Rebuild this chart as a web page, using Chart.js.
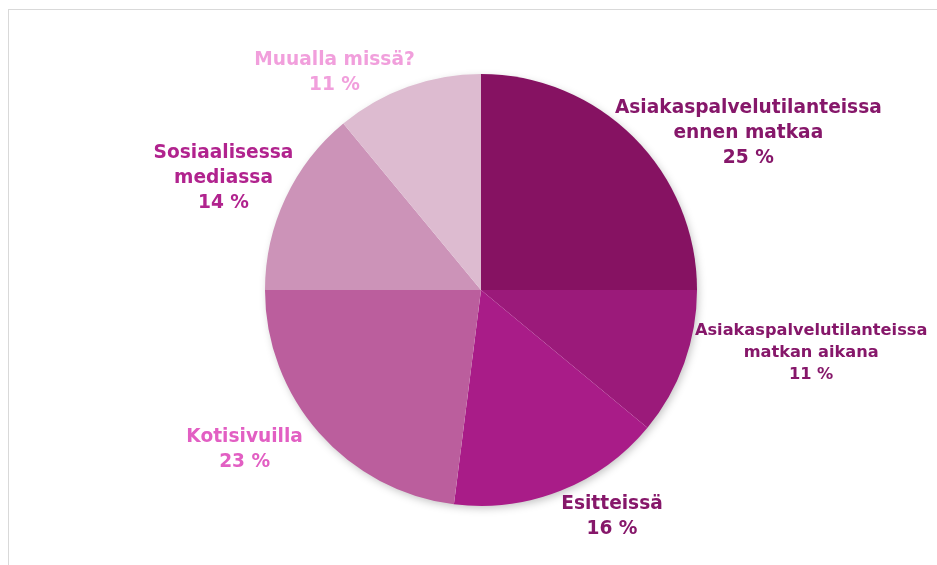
<!DOCTYPE html>
<html>
<head>
<meta charset="utf-8">
<script src="https://cdn.jsdelivr.net/npm/chart.js@4/dist/chart.umd.min.js"></script>
<style>
  html, body { margin: 0; padding: 0; background: #fff; }
  #wrap { position: relative; width: 937px; height: 565px; overflow: hidden; }
  #frame { position: absolute; left: 8px; top: 9px; width: 960px; height: 600px;
           border-left: 1px solid #d9d9d9; border-top: 1px solid #d9d9d9; }
  canvas { position: absolute; left: 0; top: 0; }
</style>
</head>
<body>
<div id="wrap">
  <div id="frame"></div>
  <canvas id="pieChart" width="937" height="565"></canvas>
</div>
<script>
// Slices, clockwise from 12 o'clock
const categories = [
    ['Asiakaspalvelutilanteissa', 'ennen matkaa'],
    ['Asiakaspalvelutilanteissa', 'matkan aikana'],
    ['Esitteissä'],
    ['Kotisivuilla'],
    ['Sosiaalisessa', 'mediassa'],
    ['Muualla missä?']
];
const shares = [25, 11, 16, 23, 14, 11];

const sliceColors = ['#861262', '#9b1a7a', '#a91c88', '#bb5e9d', '#cc93b8', '#ddbbd0'];
const labelColors = ['#86176a', '#86176a', '#86176a', '#e25fc3', '#b1238e', '#f19fdc'];
// label placement: distance as a fraction of radius, angle nudge in degrees from slice mid
const labelDist = [1.435, 1.556, 1.213, 1.32, 1.30, 1.213];
const labelTurn = [14.6, -9, -8.4, 7.4, -1.7, -14.2];
const labelSize = [18.6, 16.2, 18.6, 18.6, 18.6, 18.6];

const outsideLabels = {
    id: 'outsideLabels',
    afterDatasetsDraw(chart) {
        const ctx = chart.ctx;
        const meta = chart.getDatasetMeta(0);
        ctx.save();
        ctx.textAlign = 'center';
        ctx.textBaseline = 'middle';
        meta.data.forEach((arc, i) => {
            const mid = (arc.startAngle + arc.endAngle) / 2 + labelTurn[i] * Math.PI / 180;
            const d = arc.outerRadius * labelDist[i];
            const cx = arc.x + Math.cos(mid) * d;
            const cy = arc.y + Math.sin(mid) * d;
            const lines = categories[i].concat([shares[i] + ' %']);
            const lh = labelSize[i] * 1.36;
            const y0 = cy - (lines.length - 1) * lh / 2;
            ctx.font = 'bold ' + labelSize[i] + 'px "DejaVu Sans", Verdana, sans-serif';
            ctx.fillStyle = labelColors[i];
            lines.forEach((t, k) => ctx.fillText(t, cx, y0 + k * lh));
        });
        ctx.restore();
    }
};

const pieShadow = {
    id: 'pieShadow',
    beforeDatasetsDraw(chart) {
        const ctx = chart.ctx;
        const arc = chart.getDatasetMeta(0).data[0];
        ctx.save();
        ctx.shadowColor = 'rgba(0,0,0,0.25)';
        ctx.shadowBlur = 8;
        ctx.shadowOffsetX = 2;
        ctx.shadowOffsetY = 3;
        ctx.fillStyle = '#fff';
        ctx.beginPath();
        ctx.arc(arc.x, arc.y, arc.outerRadius - 1, 0, Math.PI * 2);
        ctx.fill();
        ctx.restore();
    }
};

new Chart(document.getElementById('pieChart'), {
    type: 'pie',
    data: {
        labels: categories.map(c => c.join(' ')),
        datasets: [{
            data: shares,
            backgroundColor: sliceColors,
            borderWidth: 0
        }]
    },
    options: {
        responsive: false,
        animation: false,
        layout: { padding: { top: 74, bottom: 59, left: 100, right: 75 } },
        plugins: {
            legend: { display: false },
            tooltip: { enabled: false }
        }
    },
    plugins: [pieShadow, outsideLabels]
});
</script>
</body>
</html>
